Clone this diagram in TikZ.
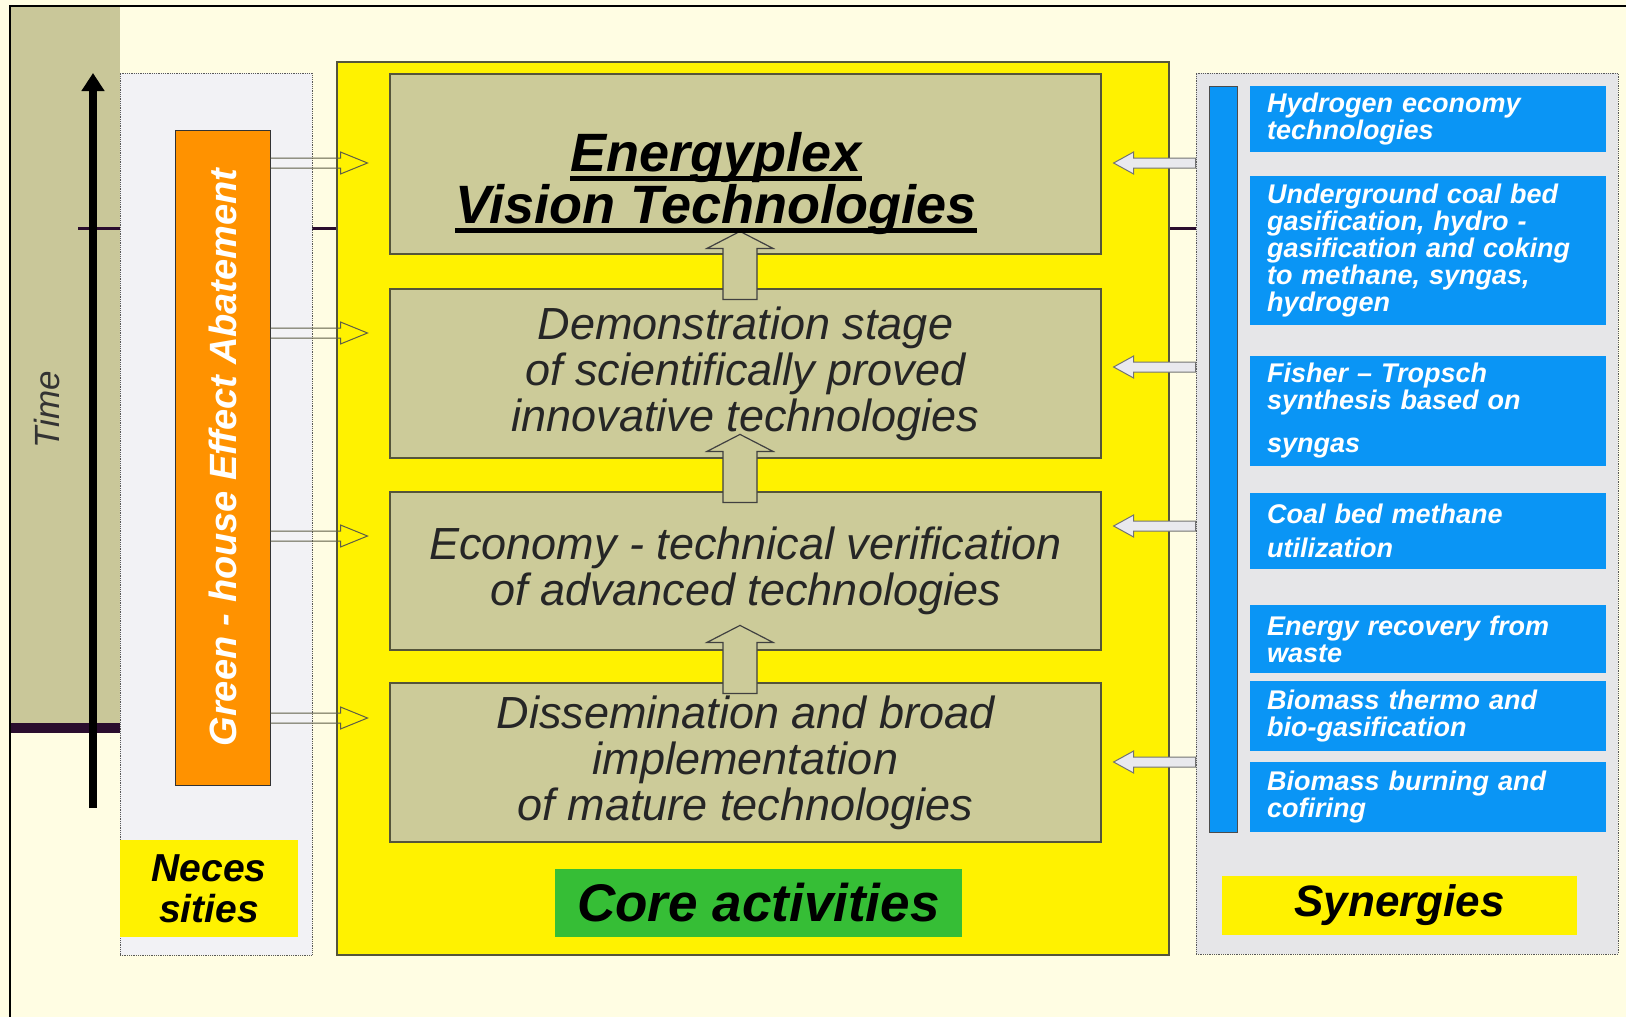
\documentclass[tikz,border=0pt]{standalone}
\usepackage{fontspec}
\setmainfont{Liberation Sans}
\usepackage{tikz}
\usetikzlibrary{arrows.meta}

\definecolor{cream}{HTML}{FFFDE3}
\definecolor{khaki}{HTML}{CCCB99}
\definecolor{timekhaki}{HTML}{C9C799}
\definecolor{panelgray}{HTML}{F2F2F5}
\definecolor{syngray}{HTML}{E6E6E8}
\definecolor{ghorange}{HTML}{FF9200}
\definecolor{synblue}{HTML}{0A95F5}
\definecolor{coregreen}{HTML}{36BE36}
\definecolor{olive}{HTML}{55553A}
\definecolor{darkplum}{HTML}{2A0D2E}
\definecolor{hollowgray}{HTML}{5E5E46}
\definecolor{arrowgray}{HTML}{E9E9EE}

\newcommand\titleline[1]{\setbox0\hbox{#1}\rlap{\rule[-9pt]{\wd0}{4.5pt}}\box0}

\begin{document}
\begin{tikzpicture}[x=1pt, y=-1pt,
  panel/.style={draw=black!65, densely dotted, line width=0.8pt, inner sep=0pt},
  corebox/.style={draw=olive, fill=khaki, line width=1.2pt, minimum width=711pt,
    inner sep=0pt, align=center, text=black!85, font=\itshape\fontsize{45}{46}\selectfont},
  bluebox/.style={fill=synblue, text width=322pt, inner xsep=17pt, inner ysep=0pt,
    align=left, text=white, font=\bfseries\itshape\fontsize{27}{27}\selectfont},
  tagbox/.style={fill=yellow, inner sep=0pt, align=center, text=black},
  needarrow/.style={draw=hollowgray, line width=1pt},
  synarrow/.style={draw=black!55, fill=arrowgray, line width=1pt},
  uparrow/.style={draw=black!75, fill=khaki, line width=1.2pt}]

\useasboundingbox (0,0) rectangle (1626,1017);
\fill[cream] (0,0) rectangle (1626,1017);

% time strip
\fill[timekhaki] (10,6) rectangle (120,725);
\fill[darkplum] (10,723) rectangle (120,733);
\draw[darkplum, line width=3pt] (78,228) -- (1196,228);

% panels
\node[panel, fill=panelgray, minimum width=192pt, minimum height=882pt] (need) at (216,514) {};
\node[draw=olive, fill=yellow, line width=1.5pt, minimum width=832pt, minimum height=893pt] (core) at (753,508.5) {};
\node[panel, fill=syngray, minimum width=422pt, minimum height=881pt] (syn) at (1407,513.5) {};

\draw[line width=2.5pt] (10,1017) -- (10,6) -- (1626,6);

\coordinate (tstart) at (93,808);
\coordinate (tend) at (93,73);
\draw[line width=8pt, -{Triangle[width=22pt,length=18pt]}] (tstart) -- (tend);
\node[rotate=90, text=black!80, font=\itshape\fontsize{35}{35}\selectfont] (time) at (47,410) {Time};

% necessities
\node[draw=black!80, fill=ghorange, line width=1pt, minimum width=95pt, minimum height=655pt,
  inner sep=0pt, text=white, font=\bfseries\itshape\fontsize{38}{38}\selectfont] (green) at (222.5,457.5)
  {\rotatebox{90}{Green - house Effect Abatement}};
\node[tagbox, minimum width=178pt, minimum height=97pt, font=\bfseries\itshape\fontsize{39}{41}\selectfont]
  (necesities) at (209,888.5) {Neces\\sities};

% core activities
\node[corebox, minimum height=180pt] (vision) at (745.5,164) {};
\node[corebox, minimum height=169pt] (demo) at (745.5,373.5)
  {Demonstration stage\\of scientifically proved\\innovative technologies};
\node[corebox, minimum height=158pt] (econ) at (745.5,571)
  {Economy - technical verification\\of advanced technologies};
\node[corebox, minimum height=159pt] (diss) at (745.5,762.5)
  {Dissemination and broad\\implementation\\of mature technologies};

\foreach \lo in {demo,econ,diss}
  \draw[uparrow] (\lo.north -| 740,0) ++(-17,11) -- ++(0,-51) -- ++(-16,0) -- ++(33,-17)
    -- ++(33,17) -- ++(-16,0) -- ++(0,51) -- cycle;

\node[align=center, font=\bfseries\itshape\fontsize{54}{52}\selectfont] (title) at (716,184)
  {\titleline{Energyplex}\\\titleline{Vision Technologies}};

\node[fill=coregreen, minimum width=407pt, minimum height=68pt, inner sep=0pt,
  font=\bfseries\itshape\fontsize{53}{53}\selectfont] (coreact) at (758.5,903) {Core activities};

% synergies
\node[draw=black!70, fill=synblue, line width=1pt, minimum width=28pt, minimum height=746pt,
  inner sep=0pt] (bluebar) at (1223,459) {};
\node[bluebox, minimum height=66pt] (hydro) at (1428,119) {Hydrogen economy\\technologies};
\node[bluebox, minimum height=149pt] (ucg) at (1428,250.5)
  {Underground coal bed\\gasification, hydro -\\gasification and coking\\to methane, syngas,\\hydrogen};
\node[bluebox, minimum height=110pt] (ft) at (1428,411)
  {Fisher – Tropsch\\synthesis based on\\[16pt]syngas};
\node[bluebox, minimum height=76pt] (cbm) at (1428,531) {Coal bed methane\\[7pt]utilization};
\node[bluebox, minimum height=68pt] (waste) at (1428,639) {Energy recovery from\\waste};
\node[bluebox, minimum height=70pt] (biogas) at (1428,716) {Biomass thermo and\\bio-gasification};
\node[bluebox, minimum height=70pt] (cofire) at (1428,797) {Biomass burning and\\cofiring};
\node[tagbox, minimum width=355pt, minimum height=59pt, font=\bfseries\itshape\fontsize{44}{44}\selectfont]
  (synlabel) at (1399.5,905.5) {\raisebox{-5pt}{Synergies}};

% arrows into the core
\foreach \y in {163,333,536,718}
  \draw[needarrow] (green.east |- 0,\y) ++(0,-5) -- ++(70,0) -- ++(0,-6) -- ++(27,11)
    -- ++(-27,11) -- ++(0,-6) -- ++(-70,0);
\foreach \y in {163,367,526,762}
  \draw[synarrow] (syn.west |- 0,\y) ++(0,-5) -- ++(-62,0) -- ++(0,-6) -- ++(-20,11)
    -- ++(20,11) -- ++(0,-6) -- ++(62,0) -- cycle;

\end{tikzpicture}
\end{document}
